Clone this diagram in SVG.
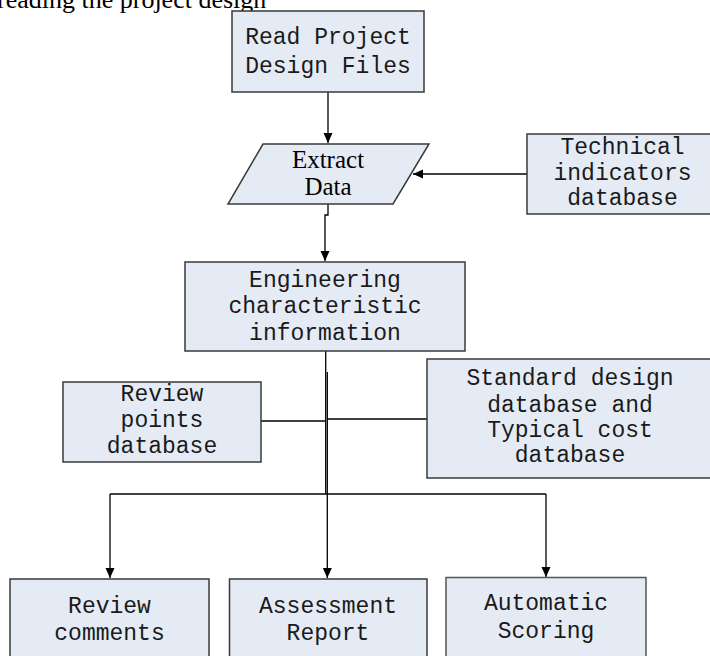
<svg xmlns="http://www.w3.org/2000/svg" width="710" height="656" viewBox="0 0 710 656">
<style>
.box{fill:#E5EBF5;stroke:#3a3a3a;stroke-width:1.5}
.t{font-family:"Liberation Mono","DejaVu Sans Mono",monospace;font-size:23px;fill:#1a1a1a;text-anchor:middle}
.s{font-family:"Liberation Serif","Times New Roman",serif;fill:#000}
.c{fill:none;stroke:#000;stroke-width:1.3}
</style>
<defs>
<marker id="arr" markerUnits="userSpaceOnUse" markerWidth="10" markerHeight="12" viewBox="0 0 10 12" refX="10" refY="6" orient="auto">
<path d="M0,1.5 L10,6 L0,10.5 Z" fill="#000"/>
</marker>
</defs>
<text class="s" x="-3" y="8" font-size="26">reading the project design</text>
<g id="connectors">
<path class="c" d="M328,92 V143" marker-end="url(#arr)"/>
<path class="c" d="M527,174 H413" marker-end="url(#arr)"/>
<path class="c" d="M328,204 V215 H325 V261" marker-end="url(#arr)"/>
<path class="c" d="M325.7,351 V494"/>
<path class="c" d="M261,421 H325.7"/>
<path class="c" d="M427,419 H327.3"/>
<path class="c" d="M327.3,372 V578" marker-end="url(#arr)"/>
<path class="c" d="M110,494 H546"/>
<path class="c" d="M110,494 V578" marker-end="url(#arr)"/>
<path class="c" d="M546,494 V577" marker-end="url(#arr)"/>
</g>
<g id="read">
<rect class="box" x="232" y="11" width="192" height="81"/>
<text class="t" x="328" y="44">Read Project</text>
<text class="t" x="328" y="73">Design Files</text>
</g>
<g id="extract">
<polygon class="box" points="263,144 429,144 393,204 228,204"/>
<text class="s" x="328" y="168" font-size="25" text-anchor="middle">Extract</text>
<text class="s" x="328" y="195" font-size="25" text-anchor="middle">Data</text>
</g>
<g id="technical">
<rect class="box" x="527" y="134" width="191" height="80"/>
<text class="t" x="622.5" y="154">Technical</text>
<text class="t" x="622.5" y="180">indicators</text>
<text class="t" x="622.5" y="205">database</text>
</g>
<g id="engineering">
<rect class="box" x="185" y="262" width="280" height="89"/>
<text class="t" x="325" y="287">Engineering</text>
<text class="t" x="325" y="313">characteristic</text>
<text class="t" x="325" y="340">information</text>
</g>
<g id="reviewpoints">
<rect class="box" x="63" y="382" width="198" height="80"/>
<text class="t" x="162" y="401">Review</text>
<text class="t" x="162" y="427">points</text>
<text class="t" x="162" y="453">database</text>
</g>
<g id="standard">
<rect class="box" x="427" y="359" width="286" height="119"/>
<text class="t" x="570" y="385">Standard design</text>
<text class="t" x="570" y="411.5">database and</text>
<text class="t" x="570" y="437">Typical cost</text>
<text class="t" x="570" y="462">database</text>
</g>
<g id="reviewcomments">
<rect class="box" x="10" y="579" width="199" height="90"/>
<text class="t" x="109.5" y="613">Review</text>
<text class="t" x="109.5" y="640">comments</text>
</g>
<g id="assessment">
<rect class="box" x="229.5" y="579" width="197.5" height="90"/>
<text class="t" x="328" y="613">Assessment</text>
<text class="t" x="328" y="640">Report</text>
</g>
<g id="automatic">
<rect class="box" x="446" y="577.5" width="200" height="90" style="stroke:#555"/>
<text class="t" x="546" y="610">Automatic</text>
<text class="t" x="546" y="638">Scoring</text>
</g>
</svg>
